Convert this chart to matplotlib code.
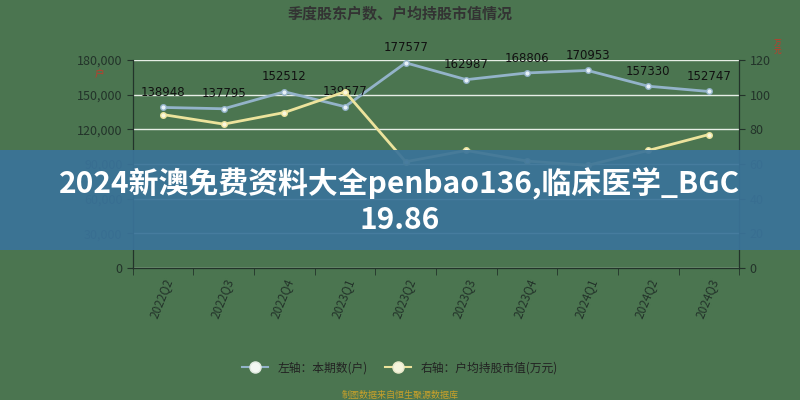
import matplotlib.pyplot as plt
import numpy as np
from matplotlib.lines import Line2D

plt.rcParams['font.family'] = ['Noto Sans CJK SC', 'DejaVu Sans']

quarters = ['2022Q2', '2022Q3', '2022Q4', '2023Q1', '2023Q2',
            '2023Q3', '2023Q4', '2024Q1', '2024Q2', '2024Q3']
holders = [138948, 137795, 152512, 139577, 177577,
           162987, 168806, 170953, 157330, 152747]
avg_value = [88.5, 83.0, 89.7, 101.7, 61.3, 67.8, 61.7, 59.2, 67.8, 77.0]

bg = '#4b7550'
ink = '#23332a'
blue = '#93b3c9'
yellow = '#ece39c'

fig = plt.figure(figsize=(8, 4), dpi=100, facecolor=bg)
ax = fig.add_axes([0.166, 0.33, 0.758, 0.52])
ax.set_facecolor(bg)
ax2 = ax.twinx()

x = np.arange(len(quarters))
ax.plot(x, holders, '-o', color=blue, lw=2, ms=4, mfc='#e8f2f8', mec=blue,
        zorder=3)
ax2.plot(x, avg_value, '-o', color=yellow, lw=2, ms=4, mfc='#fbf8df',
         mec=yellow, zorder=3)

for xi, v in zip(x, holders):
    ax.annotate(str(v), (xi, v), xytext=(0, 6), textcoords='offset points',
                ha='center', va='bottom', fontsize=8.5, color='#111111',
                family='DejaVu Sans', zorder=5)

ax.set_xlim(-0.5, len(quarters) - 0.5)
ax.set_ylim(0, 180000)
ax2.set_ylim(0, 120)
ax.set_yticks(np.arange(0, 180001, 30000))
ax.set_yticklabels([f'{v:,}' for v in range(0, 180001, 30000)])
ax2.set_yticks(np.arange(0, 121, 20))
ax.yaxis.grid(True, color='#e6eee6', lw=1)
ax.set_axisbelow(True)

ax.set_xticks(x)
ax.set_xticklabels(quarters, rotation=68, ha='right', va='top',
                   rotation_mode='anchor')
ax.set_xticks(np.arange(-0.5, len(quarters)), minor=True)
ax.tick_params(axis='x', which='major', length=0, pad=6)
ax.tick_params(axis='x', which='minor', length=5, color=ink)

for a in (ax, ax2):
    a.tick_params(axis='y', colors=ink, labelsize=9, length=4)
    a.spines['top'].set_visible(False)
    for s in ('left', 'right', 'bottom'):
        a.spines[s].set_color(ink)
ax.tick_params(axis='x', colors=ink, labelsize=8.5)

fig.text(0.5, 0.967, '季度股东户数、户均持股市值情况', ha='center', va='center',
         fontsize=10.8, fontweight='bold', color='#333333')
fig.text(0.125, 0.815, '户', ha='center', va='center', fontsize=7,
         color='#c23a2a')
fig.text(0.972, 0.88, '万\n元', ha='center', va='center', fontsize=5.5,
         color='#c23a2a', linespacing=0.9)

handles = [Line2D([0], [0], color=blue, lw=1.5, marker='o', ms=8,
                  mfc='#f2f8f2', mec='#dfe9df'),
           Line2D([0], [0], color=yellow, lw=1.5, marker='o', ms=8,
                  mfc='#f4f4dc', mec='#e8e8c8')]
fig.legend(handles, ['左轴：本期数(户)', '右轴：户均持股市值(万元)'],
           loc='center', bbox_to_anchor=(0.5, 0.08), ncol=2, frameon=False,
           fontsize=8.5, labelcolor='#222222', handlelength=2.2,
           columnspacing=1.5)
fig.text(0.5, 0.012, '制图数据来自恒生聚源数据库', ha='center', va='center',
         fontsize=6.5, color='#c9a12a')

# banner overlay
fig.patches.append(plt.Rectangle((0, 0.375), 1, 0.25,
                                 transform=fig.transFigure,
                                 facecolor='#3a7399', alpha=0.93, zorder=10))
fig.text(0.5, 0.542, '2024新澳免费资料大全penbao136,临床医学_BGC',
         ha='center', va='center', fontsize=21.5, fontweight='bold',
         color='white', zorder=11)
fig.text(0.5, 0.45, '19.86', ha='center', va='center', fontsize=21.5,
         fontweight='bold', color='white', zorder=11)

fig.savefig('out.png', dpi=100, facecolor=bg)
